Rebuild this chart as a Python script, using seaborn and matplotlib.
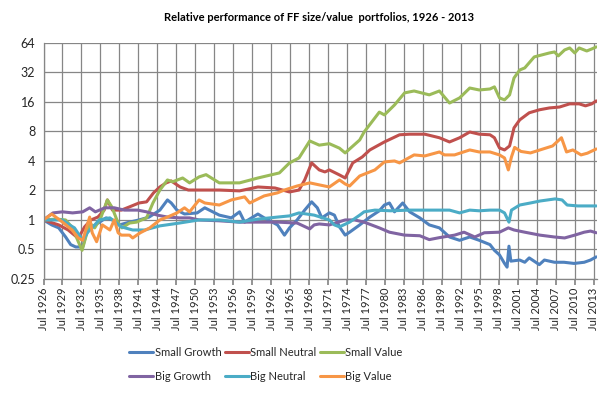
import numpy as np
import pandas as pd
import matplotlib
matplotlib.use("Agg")
import matplotlib.pyplot as plt
import seaborn as sns

series_names = ["Small Growth", "Small Neutral", "Small Value",
                "Big Growth", "Big Neutral", "Big Value"]
series_colors = ["#4F81BD", "#C0504D", "#9BBB59", "#8064A2", "#4BACC6", "#F79646"]

small_growth = [(1926.5,1.0),(1927.8,0.89),(1928.9,0.83),(1930.0,0.67),(1930.8,0.56),(1931.6,0.53),
    (1932.7,0.53),(1933.3,0.74),(1934.2,0.85),(1936.4,1.05),(1937.4,1.0),(1938.5,0.89),(1940.1,0.95),
    (1941.6,1.0),(1943.2,1.07),(1944.9,1.26),(1946.1,1.6),(1946.7,1.49),(1947.6,1.26),(1948.8,1.15),
    (1950.8,1.18),(1952.0,1.33),(1954.3,1.12),(1956.2,1.05),(1957.5,1.21),(1958.3,0.95),(1960.4,1.15),
    (1961.4,1.05),(1963.5,0.89),(1964.6,0.70),(1965.4,0.83),(1966.6,1.0),(1967.8,1.26),(1968.9,1.53),
    (1969.8,1.33),(1970.5,1.05),(1971.7,1.18),(1972.5,1.12),(1973.3,0.85),(1974.2,0.70),(1974.9,0.75),
    (1976.5,0.89),(1978.1,1.07),(1979.6,1.24),(1980.4,1.42),(1981.2,1.49),(1982.0,1.21),(1983.3,1.49),
    (1984.4,1.21),(1986.0,1.05),(1987.5,0.89),(1989.1,0.83),(1990.7,0.67),(1992.3,0.62),(1993.9,0.67),
    (1995.4,0.62),(1997.1,0.56),(1997.8,0.49),(1998.6,0.44),(1999.4,0.36),(1999.8,0.33),(2000.1,0.54),
    (2000.4,0.38),(2001.8,0.39),(2002.6,0.37),(2003.3,0.41),(2004.9,0.35),(2005.7,0.39),(2007.3,0.37),
    (2008.8,0.37),(2010.4,0.36),(2012.0,0.37),(2013.0,0.39),(2013.9,0.42)]

small_neutral = [(1926.5,1.0),(1928.9,0.89),(1930.4,0.79),(1932.0,0.65),(1933.0,0.85),(1934.0,1.0),
    (1935.1,1.07),(1936.1,1.26),(1936.6,1.6),(1937.4,1.26),(1938.8,1.26),(1940.1,1.36),(1941.6,1.49),
    (1942.8,1.53),(1943.9,1.89),(1944.9,2.17),(1945.9,2.39),(1946.7,2.5),(1948.1,2.17),(1949.4,2.02),
    (1951.1,2.02),(1954.3,2.02),(1957.5,1.98),(1960.4,2.17),(1963.1,2.12),(1965.4,1.93),(1966.9,2.02),
    (1967.8,2.56),(1968.9,3.82),(1970.1,3.24),(1971.0,3.09),(1971.7,3.24),(1973.3,2.88),(1974.2,2.68),
    (1975.4,3.82),(1976.9,4.39),(1978.1,5.18),(1980.4,6.25),(1982.8,7.4),(1984.4,7.5),(1986.8,7.5),
    (1989.1,6.9),(1990.7,6.25),(1992.3,6.9),(1993.9,7.9),(1995.4,7.5),(1997.1,7.4),(1997.8,6.9),
    (1998.6,5.43),(1999.4,5.18),(2000.2,5.69),(2000.9,8.7),(2001.8,10.5),(2003.3,12.4),(2004.9,13.3),
    (2006.5,13.9),(2008.1,14.2),(2009.7,15.3),(2011.2,15.3),(2012.2,14.6),(2013.2,15.3),(2013.9,16.4)]

small_value = [(1926.5,1.0),(1928.6,1.02),(1930.0,1.0),(1931.1,0.83),(1932.0,0.6),(1932.6,0.49),
    (1933.8,0.93),(1934.6,0.83),(1935.6,1.07),(1936.6,1.6),(1937.3,1.36),(1938.3,0.93),(1938.9,0.83),
    (1940.1,0.93),(1941.2,0.95),(1942.8,1.05),(1943.8,1.49),(1944.9,2.02),(1946.1,2.56),(1946.9,2.45),
    (1948.5,2.68),(1949.6,2.39),(1951.1,2.75),(1952.2,2.9),(1954.3,2.39),(1957.5,2.39),(1960.4,2.68),
    (1963.8,3.02),(1965.4,3.82),(1966.9,4.29),(1968.6,6.4),(1970.1,5.8),(1971.7,6.0),(1973.3,5.4),
    (1974.2,4.83),(1976.5,6.55),(1977.2,7.9),(1979.6,12.6),(1980.4,11.8),(1982.0,14.9),(1983.6,19.8),
    (1985.1,20.7),(1987.5,18.9),(1989.1,20.7),(1990.7,15.6),(1992.3,17.6),(1993.9,22.2),(1995.4,21.2),
    (1997.1,21.7),(1997.8,22.8),(1998.6,17.6),(1999.4,16.8),(2000.2,18.9),(2000.9,28.1),(2001.8,33.9),
    (2002.6,35.6),(2004.1,46.1),(2006.5,50.6),(2007.3,51.8),(2007.9,47.2),(2008.9,54.3),(2009.7,56.9),
    (2010.5,50.6),(2011.2,56.9),(2012.4,53.0),(2013.2,55.6),(2013.9,58.3)]

big_growth = [(1926.5,1.0),(1928.0,1.18),(1929.5,1.21),(1931.1,1.18),(1932.7,1.21),(1933.8,1.33),
    (1934.7,1.21),(1936.2,1.33),(1937.7,1.33),(1939.3,1.26),(1941.4,1.26),(1942.8,1.21),(1944.5,1.12),
    (1946.1,1.07),(1948.0,1.05),(1949.6,1.05),(1951.1,1.0),(1954.3,0.98),(1957.5,0.95),(1960.4,0.95),
    (1963.5,0.95),(1966.6,0.93),(1968.6,0.81),(1969.3,0.89),(1970.1,0.91),(1971.7,0.89),(1974.2,1.0),
    (1975.7,1.0),(1977.2,0.95),(1979.6,0.83),(1981.2,0.75),(1983.6,0.70),(1986.0,0.69),(1987.5,0.63),
    (1989.1,0.66),(1991.5,0.70),(1993.0,0.75),(1994.7,0.67),(1996.2,0.74),(1998.6,0.75),(2000.0,0.83),
    (2000.9,0.79),(2002.6,0.75),(2005.0,0.70),(2007.3,0.67),(2008.9,0.655),(2010.5,0.70),(2012.0,0.75),
    (2013.0,0.77),(2013.9,0.74)]

big_neutral = [(1926.5,1.0),(1929.5,1.0),(1930.6,0.89),(1931.4,0.83),(1932.7,0.62),(1933.5,0.75),
    (1934.6,0.89),(1935.3,1.0),(1937.0,1.05),(1938.8,0.85),(1940.6,0.79),(1942.5,0.79),(1944.9,0.87),
    (1948.0,0.93),(1951.1,1.0),(1954.3,1.0),(1957.5,0.95),(1960.4,1.02),(1963.5,1.07),(1965.4,1.1),
    (1966.9,1.18),(1969.3,1.12),(1971.7,1.0),(1972.5,0.89),(1973.3,0.85),(1974.9,0.95),(1976.5,1.12),
    (1977.2,1.21),(1978.9,1.26),(1981.4,1.24),(1984.4,1.26),(1987.5,1.26),(1990.7,1.26),(1992.3,1.18),
    (1993.9,1.26),(1995.4,1.24),(1997.1,1.26),(1998.6,1.26),(1999.4,1.18),(2000.1,0.95),(2000.5,1.26),
    (2001.8,1.42),(2003.5,1.49),(2005.0,1.56),(2007.4,1.64),(2008.5,1.6),(2009.3,1.42),(2011.0,1.39),
    (2013.9,1.39)]

big_value = [(1926.5,1.0),(1927.8,1.15),(1929.5,0.95),(1931.0,0.79),(1932.0,0.655),(1932.7,0.62),
    (1933.8,1.07),(1934.2,0.74),(1934.9,0.6),(1935.8,0.89),(1937.0,0.79),(1937.7,1.0),(1938.3,0.74),
    (1938.8,0.70),(1940.1,0.70),(1940.6,0.655),(1941.8,0.74),(1943.3,0.83),(1944.9,1.0),(1946.1,1.07),
    (1947.6,1.18),(1948.8,1.33),(1949.6,1.21),(1951.1,1.6),(1952.0,1.49),(1954.3,1.42),(1956.2,1.6),
    (1958.3,1.72),(1959.1,1.49),(1961.4,1.76),(1963.5,1.89),(1964.6,2.02),(1966.6,2.22),(1968.6,2.39),
    (1970.1,2.28),(1971.7,2.17),(1973.3,2.56),(1974.2,2.33),(1974.9,2.22),(1976.5,2.81),(1978.9,3.24),
    (1980.4,3.91),(1982.0,4.0),(1982.8,3.82),(1985.1,4.61),(1986.8,4.5),(1989.1,4.94),(1989.9,4.61),
    (1991.5,4.61),(1993.9,5.18),(1995.4,4.94),(1997.1,4.94),(1998.6,4.61),(1999.4,4.29),(2000.0,3.24),
    (2000.5,4.4),(2001.0,5.5),(2002.0,5.0),(2003.5,4.83),(2005.0,5.18),(2007.0,5.69),(2008.4,6.9),
    (2009.2,4.94),(2010.2,5.18),(2011.5,4.61),(2012.5,4.8),(2013.9,5.3)]

y_ticks = [0.25, 0.5, 1, 2, 4, 8, 16, 32, 64]
y_tick_labels = ["0.25", "0.5", "1", "2", "4", "8", "16", "32", "64"]
x_tick_years = list(range(1926, 2014, 3))
x_tick_labels = [f"Jul {y}" for y in x_tick_years]

all_series = [small_growth, small_neutral, small_value, big_growth, big_neutral, big_value]
frames = []
for name, pts in zip(series_names, all_series):
    d = pd.DataFrame(pts, columns=["year", "value"])
    d["series"] = name
    frames.append(d)
df = pd.concat(frames, ignore_index=True)

sns.set_theme(style="white")
plt.rcParams["font.family"] = ["Lato", "DejaVu Sans"]

fig = plt.figure(figsize=(6.11, 3.94), dpi=100)
ax = fig.add_axes([0.0712, 0.292, 0.9067, 0.599])

sns.lineplot(data=df, x="year", y="value", hue="series", hue_order=series_names,
             palette=series_colors, linewidth=2.2, ax=ax, legend=False, sort=False,
             estimator=None)

ax.set_yscale("log", base=2)
ax.set_ylim(0.25, 64)
ax.set_yticks(y_ticks)
ax.set_yticklabels(y_tick_labels)
ax.yaxis.set_minor_locator(matplotlib.ticker.NullLocator())
ax.set_xlim(1926.5, 2014.1)
ax.set_xticks([y + 0.5 for y in x_tick_years])
ax.set_xticklabels(x_tick_labels, rotation=90)
ax.tick_params(axis="x", labelsize=8, length=4, color="#868686", pad=2, direction="out", bottom=True)
ax.tick_params(axis="y", labelsize=9, length=0, pad=6)
ax.grid(True, color="#868686", linewidth=0.9)
ax.set_axisbelow(True)
for s in ["top", "right"]:
    ax.spines[s].set_visible(False)
for s in ["left", "bottom"]:
    ax.spines[s].set_color("#868686")
    ax.spines[s].set_linewidth(0.9)
ax.set_xlabel("")
ax.set_ylabel("")

fig.text(0.522, 0.955, "Relative performance of FF size/value  portfolios, 1926 - 2013",
         ha="center", va="center", fontsize=8, fontweight="bold", color="black")

handles = [matplotlib.lines.Line2D([], [], color=c, linewidth=2.2) for c in series_colors]
order = [0, 3, 1, 4, 2, 5]
fig.legend([handles[i] for i in order], [series_names[i] for i in order],
           loc="center left", bbox_to_anchor=(129 / 611, 0.075), ncol=3, frameon=False,
           fontsize=8, handlelength=2.2, handletextpad=0.1, columnspacing=0.3,
           labelspacing=1.2, borderpad=0, borderaxespad=0)

fig.savefig("out.png", dpi=100)
